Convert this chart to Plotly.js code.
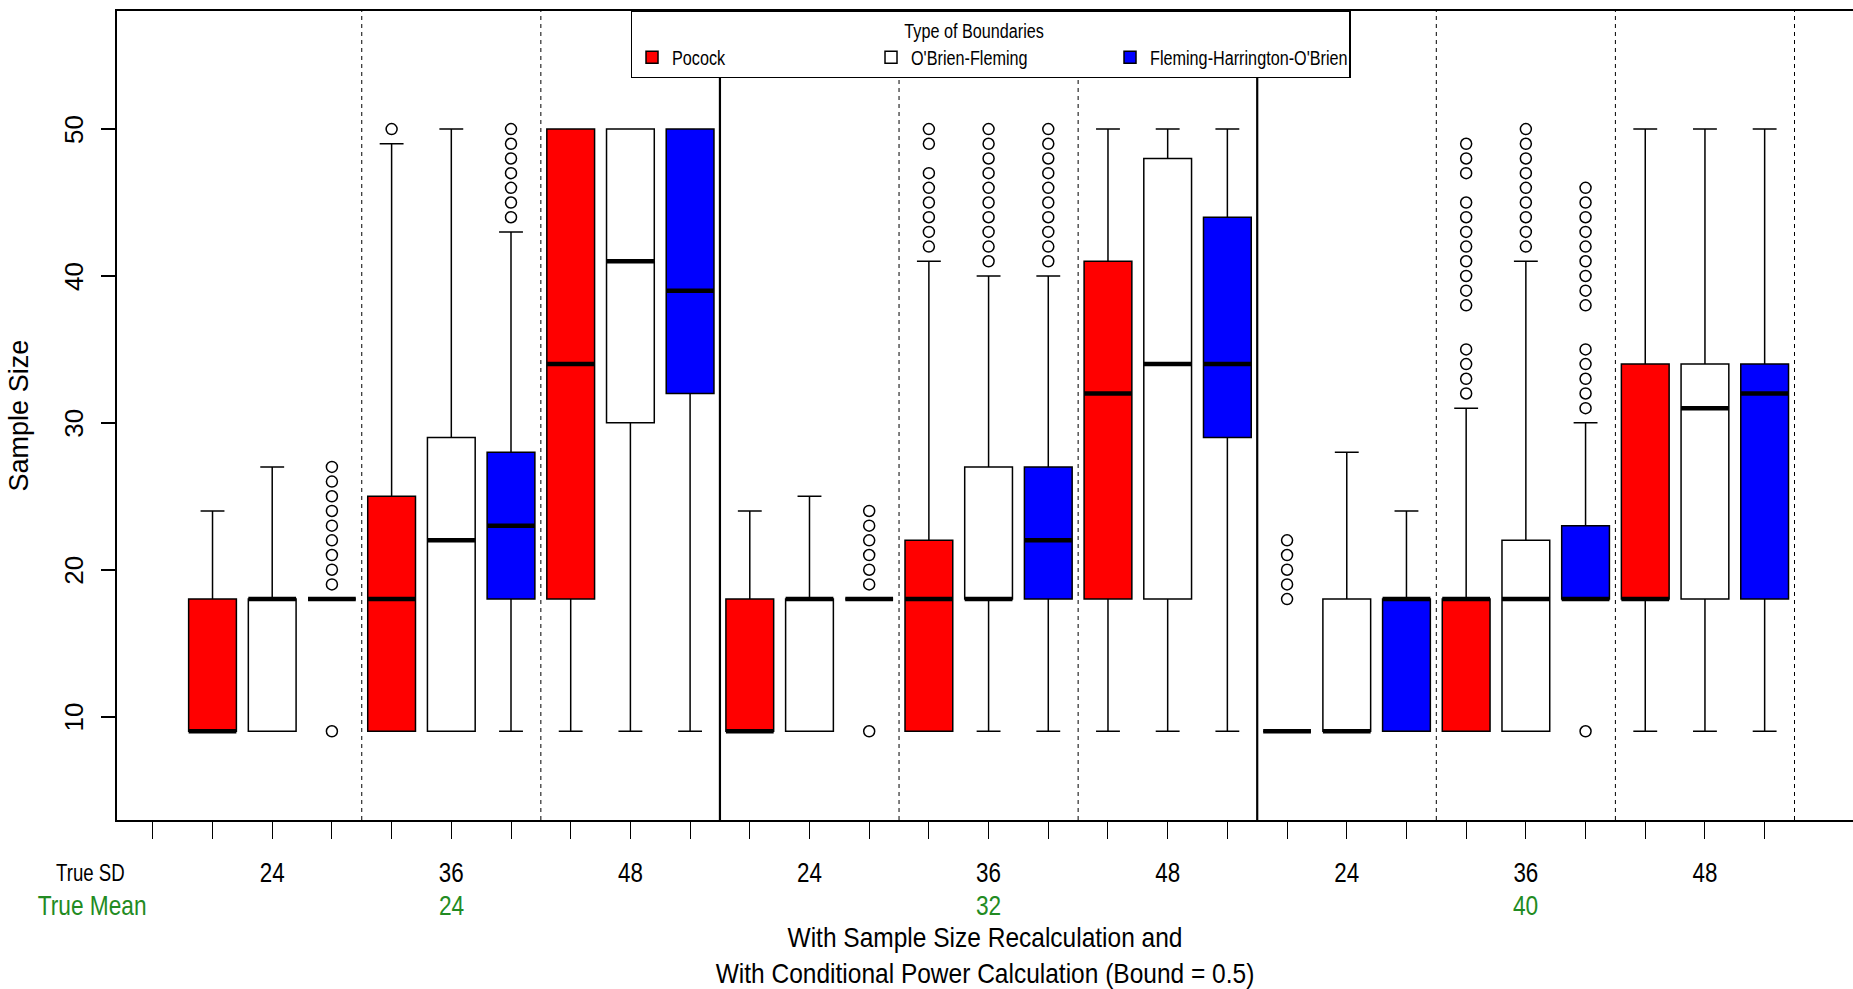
<!DOCTYPE html>
<html>
<head>
<meta charset="utf-8">
<script src="https://cdn.plot.ly/plotly-3.0.1.min.js"></script>
<style>
  html, body { margin: 0; padding: 0; background: #ffffff; }
  #chart { width: 1853px; height: 989px; }
</style>
</head>
<body>
<div id="chart"></div>
<script>
// ---------------- data ----------------
const sdLevels = ['24', '36', '48'];
const meanLevels = ['24', '32', '40'];
const boundaryNames = ['Pocock', "O'Brien-Fleming", "Fleming-Harrington-O'Brien"];
const boundaryColors = ['#ff0000', '#ffffff', '#0000ff'];

// scenario order: (mean 24: sd 24, 36, 48), (mean 32: ...), (mean 40: ...)
const pocockLower   = [9, 9, 9, 9, 9, 9, 9, 9, 9];
const pocockQ1      = [9, 9, 18, 9, 9, 18, 9, 9, 18];
const pocockMedian  = [9, 18, 34, 9, 18, 32, 9, 18, 18];
const pocockQ3      = [18, 25, 50, 18, 22, 41, 9, 18, 34];
const pocockUpper   = [24, 49, 50, 24, 41, 50, 9, 31, 50];
const pocockOutliers = [
  [], [50], [], [],
  [42, 43, 44, 45, 46, 47, 49, 50], [],
  [18, 19, 20, 21, 22],
  [32, 33, 34, 35, 38, 39, 40, 41, 42, 43, 44, 45, 47, 48, 49], []
];

const obfLower   = [9, 9, 9, 9, 9, 9, 9, 9, 9];
const obfQ1      = [9, 9, 30, 9, 18, 18, 9, 9, 18];
const obfMedian  = [18, 22, 41, 18, 18, 34, 9, 18, 31];
const obfQ3      = [18, 29, 50, 18, 27, 48, 18, 22, 34];
const obfUpper   = [27, 50, 50, 25, 40, 50, 28, 41, 50];
const obfOutliers = [
  [], [], [], [],
  [41, 42, 43, 44, 45, 46, 47, 48, 49, 50], [],
  [], [42, 43, 44, 45, 46, 47, 48, 49, 50], []
];

const fhoLower   = [18, 9, 9, 18, 9, 9, 9, 18, 9];
const fhoQ1      = [18, 18, 32, 18, 18, 29, 9, 18, 18];
const fhoMedian  = [18, 23, 39, 18, 22, 34, 18, 18, 32];
const fhoQ3      = [18, 28, 50, 18, 27, 44, 18, 23, 34];
const fhoUpper   = [18, 43, 50, 18, 40, 50, 24, 30, 50];
const fhoOutliers = [
  [9, 19, 20, 21, 22, 23, 24, 25, 26, 27], [44, 45, 46, 47, 48, 49, 50], [],
  [9, 19, 20, 21, 22, 23, 24], [41, 42, 43, 44, 45, 46, 47, 48, 49, 50], [],
  [], [9, 31, 32, 33, 34, 35, 38, 39, 40, 41, 42, 43, 44, 45, 46], []
];

const yTickVals = [10, 20, 30, 40, 50];
const yTitle = 'Sample Size';

// ---------------- construction ----------------
const stats = [
  {lo: pocockLower, q1: pocockQ1, med: pocockMedian, q3: pocockQ3, hi: pocockUpper, out: pocockOutliers},
  {lo: obfLower, q1: obfQ1, med: obfMedian, q3: obfQ3, hi: obfUpper, out: obfOutliers},
  {lo: fhoLower, q1: fhoQ1, med: fhoMedian, q3: fhoQ3, hi: fhoUpper, out: fhoOutliers}
];
const nScen = 9, nB = 3;
const BOXW = 0.8;
const pos = (s, b) => s * nB + b + 1;

const FONT = '"Liberation Sans", Arial, sans-serif';

const traces = [];
// boxes
stats.forEach((st, b) => {
  const xs = [];
  for (let s = 0; s < nScen; s++) xs.push(pos(s, b));
  traces.push({
    type: 'box',
    name: boundaryNames[b],
    x: xs,
    q1: st.q1, median: st.med, q3: st.q3,
    lowerfence: st.lo, upperfence: st.hi,
    boxpoints: false,
    width: BOXW,
    whiskerwidth: 0.5,
    fillcolor: boundaryColors[b],
    line: {color: '#000000', width: 1.5},
    hoverinfo: 'skip',
    showlegend: true
  });
});
// thick medians
stats.forEach((st, b) => {
  const mx = [], my = [];
  for (let s = 0; s < nScen; s++) {
    const p = pos(s, b);
    mx.push(p - BOXW / 2, p + BOXW / 2, null);
    my.push(st.med[s], st.med[s], null);
  }
  traces.push({
    type: 'scatter', mode: 'lines', x: mx, y: my,
    line: {color: '#000000', width: 4.5},
    showlegend: false, hoverinfo: 'skip'
  });
});
// outliers
stats.forEach((st, b) => {
  const ox = [], oy = [];
  for (let s = 0; s < nScen; s++) {
    st.out[s].forEach(v => { ox.push(pos(s, b)); oy.push(v); });
  }
  traces.push({
    type: 'scatter', mode: 'markers', x: ox, y: oy,
    marker: {symbol: 'circle-open', size: 11, color: '#000000', line: {width: 1.5, color: '#000000'}},
    showlegend: false, hoverinfo: 'skip'
  });
});

// x ticks
const tickVals = [], tickText = [];
for (let p = 0; p <= nScen * nB; p++) {
  tickVals.push(p);
  const s = Math.floor((p - 1) / nB);
  tickText.push(p >= 1 && (p - 1) % nB === 1 ? sdLevels[s % sdLevels.length] : '');
}

// group separators
const shapes = [];
for (let s = 1; s <= nScen; s++) {
  const xv = s * nB + 0.5;
  const major = (s % 3 === 0) && s < nScen;
  shapes.push({
    type: 'line', xref: 'x', yref: 'paper', x0: xv, x1: xv, y0: 0, y1: 1,
    line: major ? {color: '#000000', width: 2.2} : {color: '#000000', width: 1, dash: '4px,4px'},
    layer: 'below'
  });
}

const annotations = [
  {text: 'True SD', xref: 'paper', yref: 'paper', x: -0.0153, y: -0.0655,
   xanchor: 'center', yanchor: 'middle', showarrow: false,
   font: {family: FONT, size: 23, color: '#000000'}},
  {text: 'True Mean', xref: 'paper', yref: 'paper', x: -0.0146, y: -0.1051,
   xanchor: 'center', yanchor: 'middle', showarrow: false,
   font: {family: FONT, size: 28, color: '#228b22'}}
];
meanLevels.forEach((m, i) => {
  annotations.push({
    text: m, xref: 'x', yref: 'paper', x: i * 3 * nB + 5, y: -0.1051,
    xanchor: 'center', yanchor: 'middle', showarrow: false,
    font: {family: FONT, size: 28, color: '#228b22'}
  });
});
// y tick labels (parallel to the axis, as in the reference)
yTickVals.forEach(v => {
  annotations.push({
    text: String(v), xref: 'paper', yref: 'y', x: -0.0248, y: v,
    xanchor: 'center', yanchor: 'middle', textangle: -90, showarrow: false,
    font: {family: FONT, size: 26, color: '#000000'}
  });
});
// y title
annotations.push({
  text: yTitle, xref: 'paper', yref: 'paper', x: -0.0565, y: 0.5,
  xanchor: 'center', yanchor: 'middle', textangle: -90, showarrow: false,
  font: {family: FONT, size: 27, color: '#000000'}
});

const layout = {
  width: 1853, height: 989,
  margin: {l: 117, r: 0, t: 11, b: 169, pad: 0},
  paper_bgcolor: '#ffffff', plot_bgcolor: '#ffffff',
  boxmode: 'overlay',
  showlegend: true,
  xaxis: {
    range: [-0.6, 28.48],
    tickmode: 'array', tickvals: tickVals, ticktext: tickText,
    ticks: 'outside', ticklen: 17, tickwidth: 1, tickcolor: '#000000',
    ticklabelstandoff: 9,
    tickfont: {family: FONT, size: 28, color: '#000000'},
    showline: true, linecolor: '#000000', linewidth: 2, mirror: true,
    showgrid: false, zeroline: false,
    title: {
      text: 'With Sample Size Recalculation and<br>With Conditional Power Calculation (Bound = 0.5)',
      font: {family: FONT, size: 28, color: '#000000'},
      standoff: 50
    }
  },
  yaxis: {
    range: [2.96, 58.04],
    tickmode: 'array', tickvals: yTickVals,
    showticklabels: false,
    ticks: 'outside', ticklen: 14, tickwidth: 1.5, tickcolor: '#000000',
    showline: true, linecolor: '#000000', linewidth: 1.5, mirror: false,
    showgrid: false, zeroline: false
  },
  legend: {
    orientation: 'h',
    x: 0.2958, xanchor: 'left', y: 1.001, yanchor: 'top',
    entrywidth: 194, entrywidthmode: 'pixels',
    bgcolor: '#ffffff', bordercolor: '#000000', borderwidth: 1.5,
    font: {family: FONT, size: 20, color: '#000000'},
    title: {text: 'Type of Boundaries', side: 'top center',
            font: {family: FONT, size: 20, color: '#000000'}},
    itemclick: false, itemdoubleclick: false
  },
  shapes: shapes,
  annotations: annotations
};

// The reference uses a narrow (condensed) typeface; none is installed,
// so condense the real text horizontally with SVG textLength.
const condenseRules = [
  ['.xtick text', 0.80],
  ['.legendtext', 0.81],
  ['.legendtitletext', 0.81],
  ['.g-xtitle text', 0.875]
];
function squeeze(el, f) {
  el.removeAttribute('textLength');
  el.removeAttribute('lengthAdjust');
  const L = el.getComputedTextLength();
  if (L > 0) {
    el.setAttribute('textLength', (L * f).toFixed(2));
    el.setAttribute('lengthAdjust', 'spacingAndGlyphs');
  }
}
function condenseAll(gd) {
  condenseRules.forEach(([sel, f]) => {
    gd.querySelectorAll(sel).forEach(t => {
      const lines = t.querySelectorAll('tspan.line');
      if (lines.length) lines.forEach(ts => squeeze(ts, f));
      else squeeze(t, f);
    });
  });
  // horizontal annotations use the narrow face; rotated y labels do not
  gd.querySelectorAll('.annotation').forEach(g => {
    const idx = +g.getAttribute('data-index');
    const a = layout.annotations[idx];
    if (a && !a.textangle) {
      g.querySelectorAll('.annotation-text').forEach(t => squeeze(t, 0.81));
    }
  });
}

const gd = document.getElementById('chart');
Plotly.newPlot(gd, traces, layout, {displayModeBar: false, responsive: false}).then(() => {
  condenseAll(gd);
  gd.on('plotly_afterplot', () => condenseAll(gd));
});
</script>
</body>
</html>
